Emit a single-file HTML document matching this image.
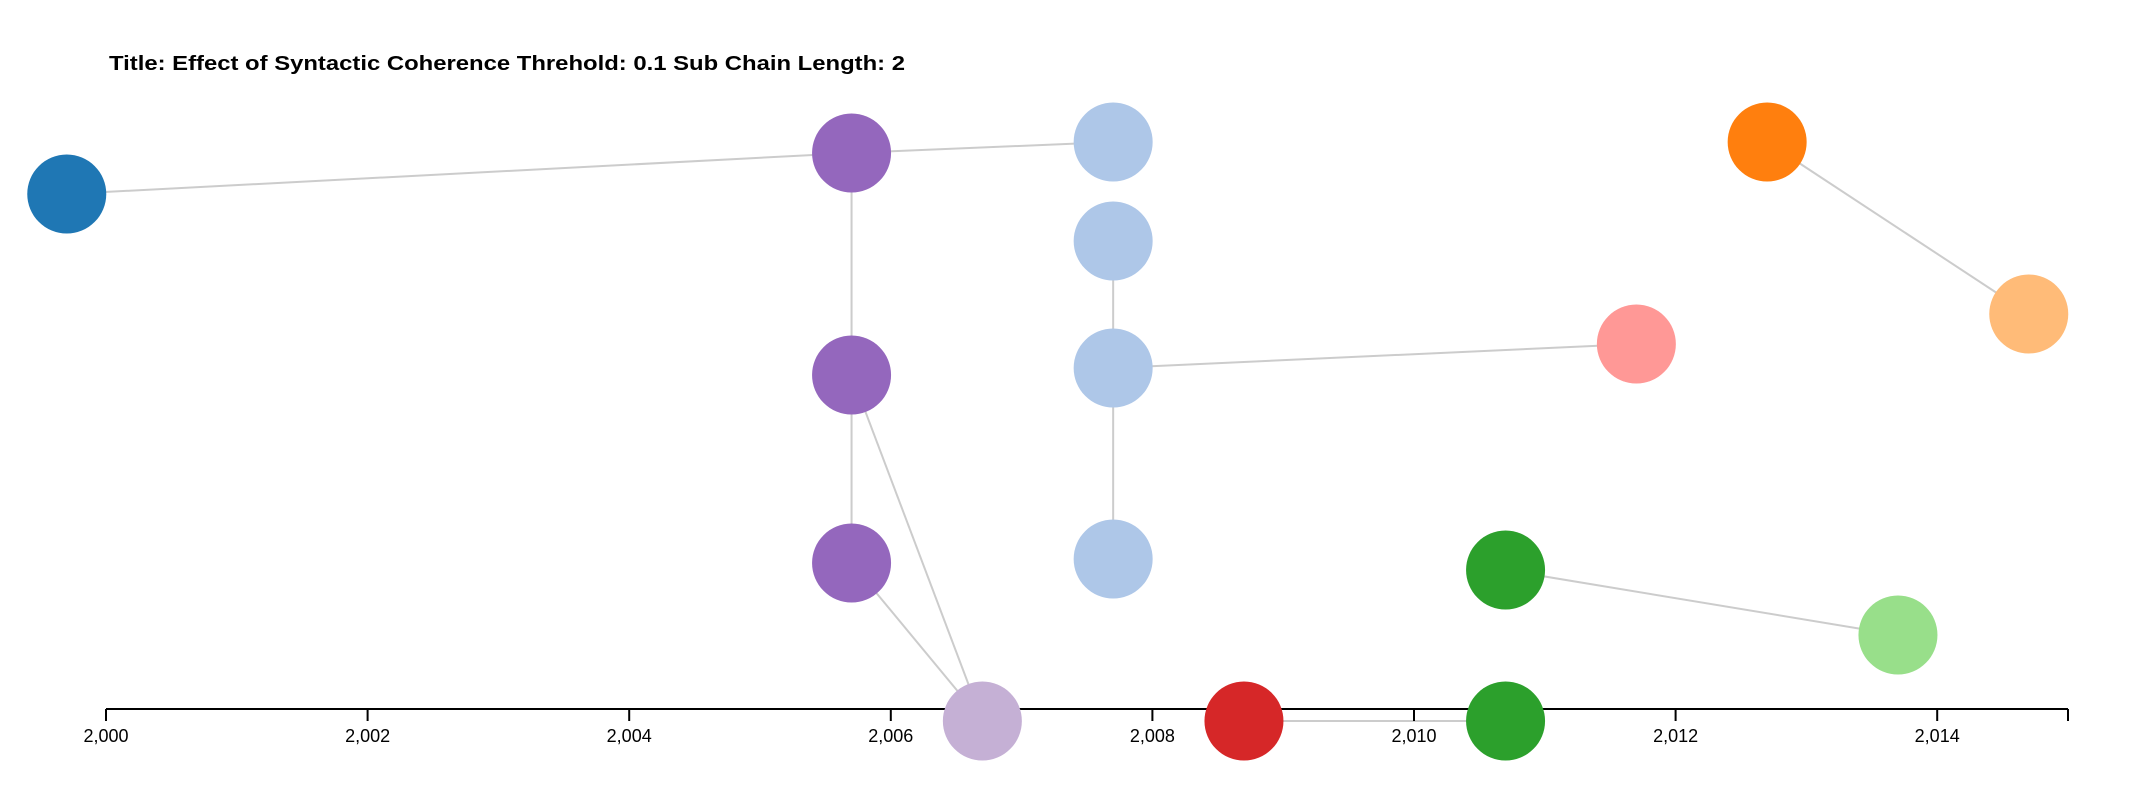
<!DOCTYPE html>
<html><head><meta charset="utf-8"><style>
html,body{margin:0;padding:0;background:#fff;}
svg{display:block;font-family:"Liberation Sans",Helvetica,Arial,sans-serif;}
</style></head><body>
<svg id="chart" width="2138" height="796">
<text x="109" y="70" font-size="20" font-weight="bold" fill="#000" textLength="796" lengthAdjust="spacingAndGlyphs">Title: Effect of Syntactic Coherence Threhold: 0.1 Sub Chain Length: 2</text>
<g id="links"></g>
<g id="axis"></g>
<g id="nodes"></g>
</svg>
<script>
const nodeYears = [1999.7, 2005.7, 2005.7, 2005.7, 2006.7, 2007.7, 2007.7, 2007.7, 2007.7, 2008.7, 2010.7, 2010.7, 2011.7, 2013.7, 2012.7, 2014.7];
const nodeLevels = [515, 556, 334, 146, -12, 567, 468, 341, 150, -12, 139, -12, 365, 74, 567, 395];
const nodeColors = ["#1f77b4","#9467bd","#9467bd","#9467bd","#c5b0d5","#aec7e8","#aec7e8","#aec7e8","#aec7e8","#d62728","#2ca02c","#2ca02c","#ff9896","#98df8a","#ff7f0e","#ffbb78"];
const linkSources = [0,1,1,2,2,3,6,7,7,14,10,9];
const linkTargets = [1,5,2,3,4,4,7,8,12,15,13,11];
const tickValues = [2000,2002,2004,2006,2008,2010,2012,2014];

const NS="http://www.w3.org/2000/svg";
const x = v => 106 + (v-2000)*(2068-106)/15;
const y = v => 709 - v;
const linksG=document.getElementById('links'), nodesG=document.getElementById('nodes'), axisG=document.getElementById('axis');
function mk(t,a,p){const e=document.createElementNS(NS,t);for(const k in a)e.setAttribute(k,a[k]);p.appendChild(e);return e;}
linkSources.forEach((s,i)=>{const t=linkTargets[i];
 const l=mk('line',{x1:x(nodeYears[s]),y1:y(nodeLevels[s]),x2:x(nodeYears[t]),y2:y(nodeLevels[t]),stroke:'#ccc','stroke-width':2},linksG);
 
 
});
mk('line',{x1:106,y1:709,x2:2068,y2:709,stroke:'#000','stroke-width':2},axisG);
[...tickValues,2015].forEach(v=>{mk('line',{x1:x(v),y1:709,x2:x(v),y2:721,stroke:'#000','stroke-width':2},axisG);});
tickValues.forEach(v=>{
 const t=mk('text',{x:x(v),y:742,'text-anchor':'middle','font-size':18,fill:'#000'},axisG);
 t.textContent=v.toLocaleString('en-US');
 
 
});
nodeYears.forEach((v,i)=>{
 const c=mk('circle',{cx:x(v),cy:y(nodeLevels[i]),r:39.5,fill:nodeColors[i]},nodesG);
 
 
});
</script>
</body></html>
